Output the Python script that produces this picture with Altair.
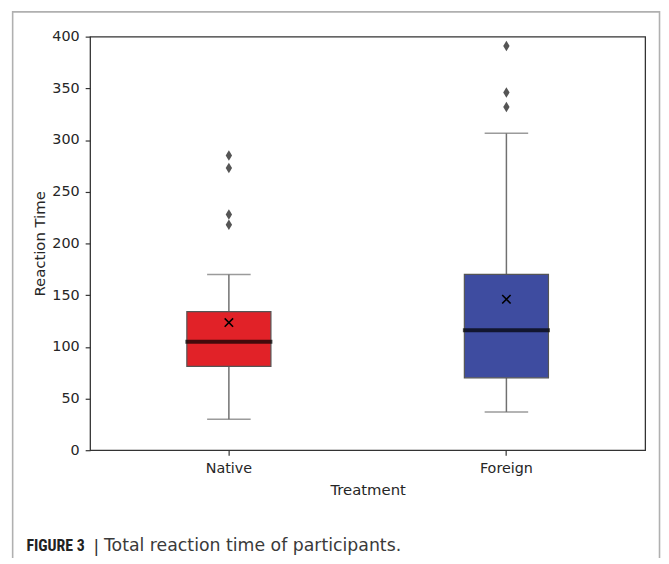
import altair as alt
import pandas as pd

categories = ["Native", "Foreign"]
colors = ["#e12228", "#3e4ca0"]
q1 = [81, 70]
q3 = [134, 170]
median = [105, 116]
mean = [123.5, 146]
whisker_low = [30, 37]
whisker_high = [170, 306.5]
outlier_group = ["Native", "Native", "Native", "Native", "Foreign", "Foreign", "Foreign"]
outlier_value = [285, 273, 228, 218, 391, 346, 332]
y_ticks = [0, 50, 100, 150, 200, 250, 300, 350, 400]

stats = pd.DataFrame({
    "Treatment": categories, "q1": q1, "q3": q3, "median": median, "mean": mean,
    "lo": whisker_low, "hi": whisker_high,
})
outl = pd.DataFrame({"Treatment": outlier_group, "value": outlier_value})
one = pd.DataFrame({"a": [0]})

xscale = alt.Scale(domain=categories, paddingInner=0, paddingOuter=0)
yscale = alt.Scale(domain=[0, 400], nice=False, zero=True)
X = alt.X("Treatment:N", scale=xscale, sort=categories,
          axis=alt.Axis(title="Treatment", labelAngle=0, domain=False, tickSize=5,
                        labelPadding=7, titleY=45, titleBaseline="alphabetic"))
Yax = alt.Axis(title="Reaction Time", values=y_ticks, grid=False, domain=False, tickSize=5,
               labelPadding=6, titleX=-46, titleY=209, titleBaseline="alphabetic",
               titleAngle=270, titleAlign="center")

base = alt.Chart(stats)
wlow = base.mark_rule(color="#707070", strokeWidth=1.5).encode(
    x=X, y=alt.Y("lo:Q", scale=yscale, axis=Yax), y2="q1:Q")
whigh = base.mark_rule(color="#707070", strokeWidth=1.5).encode(
    x=X, y=alt.Y("q3:Q", scale=yscale), y2="hi:Q")
caps_lo = base.mark_tick(color="#707070", orient="horizontal", size=44, thickness=1.5).encode(
    x=X, y=alt.Y("lo:Q", scale=yscale))
caps_hi = base.mark_tick(color="#707070", orient="horizontal", size=44, thickness=1.5).encode(
    x=X, y=alt.Y("hi:Q", scale=yscale))
box = base.mark_bar(size=85, stroke="#555555", strokeWidth=1.2).encode(
    x=X, y=alt.Y("q1:Q", scale=yscale), y2="q3:Q",
    color=alt.Color("Treatment:N", scale=alt.Scale(domain=categories, range=colors), legend=None))
med = base.mark_tick(color="#000000", orient="horizontal", size=88, thickness=4).encode(
    x=X, y=alt.Y("median:Q", scale=yscale))
mn = base.mark_point(shape="M-1,-1L1,1M-1,1L1,-1", filled=False, color="#000000",
                     strokeWidth=1.6, size=72, opacity=1).encode(
    x=X, y=alt.Y("mean:Q", scale=yscale))
pts = alt.Chart(outl).mark_point(shape="M0,-1L0.6,0L0,1L-0.6,0Z", filled=True, color="#555555",
                                 size=115, opacity=1).encode(
    x=X, y=alt.Y("value:Q", scale=yscale))

frame = alt.Chart(one).mark_rect(fillOpacity=0, stroke="#b0b0b0", strokeWidth=1.6).encode(
    x=alt.value(-78.3), x2=alt.value(575.5), y=alt.value(-25), y2=alt.value(600))
cap_bold = alt.Chart(one).mark_text(
    text="FIGURE 3", font="Liberation Sans Narrow, Roboto Condensed, Liberation Sans",
    fontWeight="bold", fontSize=16, align="left", baseline="alphabetic", color="#222222"
).encode(x=alt.value(-64.3), y=alt.value(519.6))
cap_bar = alt.Chart(one).mark_text(
    text="|", font="Liberation Sans", fontSize=18, align="center", baseline="alphabetic",
    color="#333333").encode(x=alt.value(6.3), y=alt.value(521))
cap_text = alt.Chart(one).mark_text(
    text="Total reaction time of participants.", font="DejaVu Sans", fontSize=17.5,
    align="left", baseline="alphabetic", color="#3a3a3a"
).encode(x=alt.value(14), y=alt.value(519.6))

chart = alt.layer(
    frame, wlow, whigh, caps_lo, caps_hi, box, med, mn, pts, cap_bold, cap_bar, cap_text
).properties(
    width=561, height=418,
    padding={"left": 83, "top": 26, "right": 16, "bottom": 106},
    autosize=alt.AutoSizeParams(type="none"),
    background="white",
).configure_view(stroke="#333333", strokeWidth=1.3).configure_axis(
    labelFont="DejaVu Sans", titleFont="DejaVu Sans", labelFontSize=14.5, titleFontSize=15,
    labelColor="#262626", titleColor="#262626", tickColor="#333333", tickWidth=1.2,
    titleFontWeight="normal"
)

chart.save("out.html", embed_options={"renderer": "svg", "actions": False})
